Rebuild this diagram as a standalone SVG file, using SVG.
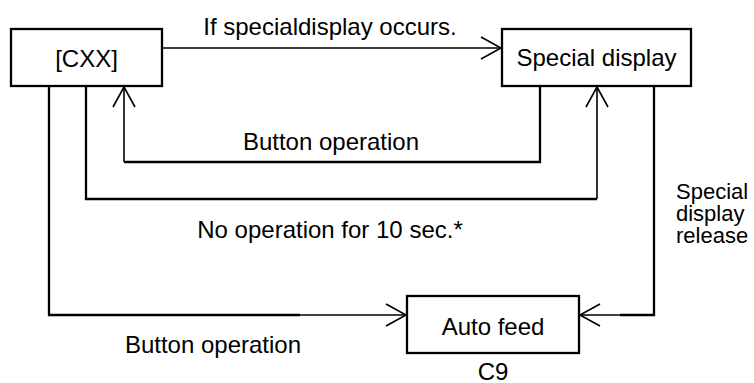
<svg xmlns="http://www.w3.org/2000/svg" width="754" height="383" viewBox="0 0 754 383">
  <style>
    .box { fill: #ffffff; stroke: #000000; stroke-width: 2.3; }
    .t { font-family: "Liberation Sans", Arial, sans-serif; font-size: 24px; fill: #000000; }
    .s { font-size: 22px; }
    .c { text-anchor: middle; }
    .line { fill: none; stroke: #000000; stroke-width: 2.3; }
    .arr { fill: none; stroke: #000000; stroke-width: 1.6; }
  </style>
  <defs>
    <marker id="ah" markerUnits="userSpaceOnUse" markerWidth="24" markerHeight="26" refX="21" refY="12" orient="auto">
      <path d="M1,1 L21,12 L1,23" fill="none" stroke="#000000" stroke-width="1.6"/>
    </marker>
  </defs>
  <rect width="754" height="383" fill="#ffffff"/>

  <g id="connectors">
    <g id="c-top">
      <path class="arr" d="M162,48 L501,48" marker-end="url(#ah)"/>
    </g>
    <g id="c-inner">
      <path class="line" d="M540,86 L540,162 L124,162"/>
      <path class="arr" d="M124,162 L124,87" marker-end="url(#ah)"/>
    </g>
    <g id="c-outer">
      <path class="line" d="M86,86 L86,199 L597,199"/>
      <path class="arr" d="M597,199 L597,87" marker-end="url(#ah)"/>
    </g>
    <g id="c-left">
      <path class="line" d="M49,86 L49,315 L300,315"/>
      <path class="arr" d="M300,315 L406,315" marker-end="url(#ah)"/>
    </g>
    <g id="c-right">
      <path class="line" d="M654,86 L654,315 L620,315"/>
      <path class="arr" d="M620,315 L580,315" marker-end="url(#ah)"/>
    </g>
  </g>

  <g id="node-cxx">
    <rect class="box" x="11" y="29" width="151" height="57"/>
    <text class="t c" x="86.5" y="67">[CXX]</text>
  </g>
  <g id="node-special">
    <rect class="box" x="502" y="29" width="189" height="57"/>
    <text class="t c" x="596.5" y="66">Special display</text>
  </g>
  <g id="node-autofeed">
    <rect class="box" x="407" y="296" width="172" height="57"/>
    <text class="t c" x="493" y="335">Auto feed</text>
  </g>

  <g id="labels">
    <text class="t c" x="330" y="35">If specialdisplay occurs.</text>
    <text class="t c" x="331" y="150">Button operation</text>
    <text class="t c" x="330" y="238">No operation for 10 sec.*</text>
    <text class="t s" x="676" y="199">Special</text>
    <text class="t s" x="676" y="221">display</text>
    <text class="t s" x="676" y="243">release</text>
    <text class="t c" x="213" y="353">Button operation</text>
    <text class="t c" x="493" y="380">C9</text>
  </g>
</svg>
